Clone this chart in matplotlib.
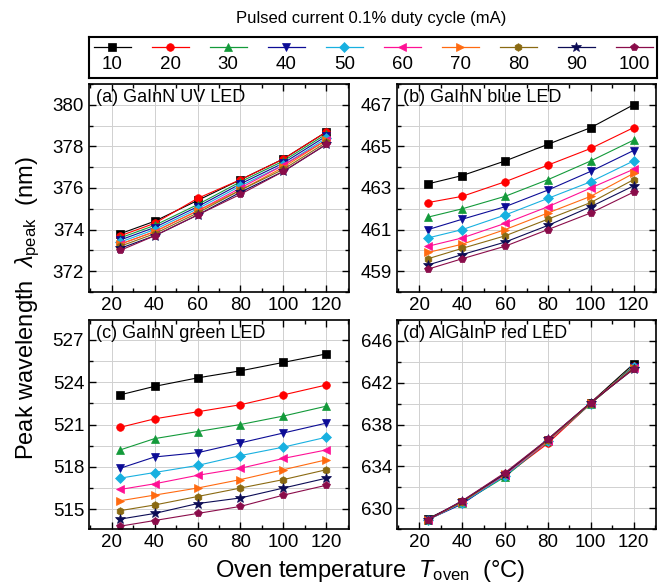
import matplotlib
matplotlib.use("Agg")
import matplotlib.pyplot as plt
from matplotlib.ticker import MultipleLocator

plt.rcParams["font.family"] = ["Liberation Sans", "DejaVu Sans"]
plt.rcParams["mathtext.fontset"] = "custom"
plt.rcParams["mathtext.rm"] = "Liberation Sans"
plt.rcParams["mathtext.it"] = "Liberation Sans:italic"

# oven temperature (deg C)
temps = [24, 40, 60, 80, 100, 120]

# pulsed currents (mA) and their styles
currents = ["10", "20", "30", "40", "50", "60", "70", "80", "90", "100"]
colors = ["#000000", "#ff0000", "#139a3a", "#0c0c96", "#18b0e0",
          "#ff1095", "#ff6a10", "#8a6a12", "#0c0c55", "#8a0c4a"]
markers = ["s", "o", "^", "v", "D", "<", ">", "h", "*", "p"]

# (a) GaInN UV LED
uv = [
    [373.8, 374.4, 375.4, 376.4, 377.4, 378.7],
    [373.7, 374.3, 375.5, 376.4, 377.4, 378.7],
    [373.6, 374.2, 375.2, 376.3, 377.3, 378.6],
    [373.5, 374.1, 375.1, 376.2, 377.2, 378.5],
    [373.4, 374.0, 375.0, 376.1, 377.1, 378.4],
    [373.3, 373.9, 374.9, 376.0, 377.1, 378.3],
    [373.3, 373.9, 374.9, 375.9, 377.0, 378.3],
    [373.2, 373.8, 374.8, 375.9, 376.9, 378.2],
    [373.1, 373.7, 374.7, 375.8, 376.8, 378.1],
    [373.0, 373.7, 374.7, 375.7, 376.8, 378.1],
]

# (b) GaInN blue LED
blue = [
    [463.2, 463.6, 464.3, 465.1, 465.9, 467.0],
    [462.3, 462.6, 463.3, 464.1, 464.9, 465.9],
    [461.6, 462.0, 462.6, 463.4, 464.3, 465.3],
    [461.0, 461.5, 462.1, 462.9, 463.8, 464.8],
    [460.6, 461.0, 461.7, 462.5, 463.3, 464.3],
    [460.2, 460.6, 461.3, 462.1, 463.0, 463.9],
    [459.9, 460.3, 461.0, 461.8, 462.6, 463.7],
    [459.6, 460.1, 460.7, 461.5, 462.3, 463.4],
    [459.3, 459.8, 460.4, 461.2, 462.1, 463.1],
    [459.1, 459.6, 460.2, 461.0, 461.8, 462.8],
]

# (c) GaInN green LED
green = [
    [523.1, 523.7, 524.3, 524.8, 525.4, 526.0],
    [520.8, 521.4, 521.9, 522.4, 523.1, 523.8],
    [519.2, 520.0, 520.5, 521.0, 521.6, 522.3],
    [517.9, 518.7, 519.0, 519.7, 520.4, 521.1],
    [517.2, 517.6, 518.1, 518.8, 519.4, 520.1],
    [516.4, 516.8, 517.4, 517.9, 518.6, 519.2],
    [515.6, 516.0, 516.5, 517.1, 517.8, 518.5],
    [514.9, 515.3, 515.9, 516.5, 517.1, 517.8],
    [514.3, 514.7, 515.4, 515.8, 516.5, 517.2],
    [513.8, 514.2, 514.7, 515.2, 516.0, 516.7],
]

# (d) AlGaInP red LED
red = [
    [629.0, 630.6, 633.2, 636.5, 640.1, 643.8],
    [628.9, 630.6, 633.1, 636.2, 640.0, 643.6],
    [628.9, 630.5, 633.0, 636.4, 640.0, 643.6],
    [628.9, 630.4, 633.2, 636.5, 640.0, 643.5],
    [628.9, 630.5, 633.1, 636.4, 640.0, 643.5],
    [628.9, 630.6, 633.2, 636.4, 640.1, 643.4],
    [628.9, 630.6, 633.3, 636.5, 640.1, 643.4],
    [628.9, 630.6, 633.3, 636.5, 640.0, 643.4],
    [628.9, 630.7, 633.3, 636.6, 640.1, 643.3],
    [628.9, 630.7, 633.4, 636.6, 640.1, 643.3],
]

# title, data, ylim, (major step, offset), (minor step, offset)
panels = [
    ("(a) GaInN UV LED", uv, (371, 381), (2, 0), (1, 0)),
    ("(b) GaInN blue LED", blue, (458, 468), (2, 1), (1, 0)),
    ("(c) GaInN green LED", green, (513.6, 528.4), (3, 2), (1.5, 0.5)),
    ("(d) AlGaInP red LED", red, (628, 648), (4, 2), (2, 0)),
]

W, H = 662, 588
fig = plt.figure(figsize=(W / 100, H / 100), dpi=100)

# axes boxes in pixels: left, top, right, bottom
boxes = [(89, 84, 349, 292), (397, 84, 656, 292),
         (89, 320, 349, 529), (397, 320, 656, 529)]

for (title, data, ylim, major, minor), (l, t, r, b) in zip(panels, boxes):
    ax = fig.add_axes([l / W, 1 - b / H, (r - l) / W, (b - t) / H])
    for vals, c, m in zip(data, colors, markers):
        ms = 7.5 if m == "*" else 5.5
        ax.plot(temps, vals, color=c, marker=m, markersize=ms, lw=0.8,
                markeredgewidth=0.5)
    ax.set_xlim(9.5, 130.5)
    ax.set_ylim(*ylim)
    ax.xaxis.set_major_locator(MultipleLocator(20))
    ax.xaxis.set_minor_locator(MultipleLocator(10))
    ax.yaxis.set_major_locator(MultipleLocator(*major))
    ax.yaxis.set_minor_locator(MultipleLocator(*minor))
    ax.tick_params(which="both", direction="in", top=True, right=True,
                   labelsize=13.5, width=1)
    ax.tick_params(which="major", length=5)
    ax.tick_params(which="minor", length=3)
    ax.grid(axis="x", which="major", color="#d0d0d0", lw=0.7)
    ax.grid(axis="y", which="both", color="#d0d0d0", lw=0.7)
    ax.set_axisbelow(True)
    for s in ax.spines.values():
        s.set_linewidth(1.2)
    ax.text(0.025, 0.975, title, transform=ax.transAxes, ha="left", va="top",
            fontsize=13)

# legend box
lax = fig.add_axes([89 / W, 1 - 78 / H, (657 - 89) / W, 41 / H])
lax.set_xlim(-0.4, 9.39)
lax.set_ylim(0, 1)
lax.set_xticks([])
lax.set_yticks([])
for s in lax.spines.values():
    s.set_linewidth(1.5)
for i, (lab, c, m) in enumerate(zip(currents, colors, markers)):
    ms = 7.5 if m == "*" else 5.5
    lax.plot([i - 0.32, i + 0.32], [0.76, 0.76], color=c, lw=0.9)
    lax.plot([i], [0.76], color=c, marker=m, markersize=ms, markeredgewidth=0.5)
    lax.text(i, 0.32, lab, ha="center", va="center", fontsize=13.5)

fig.text(371 / W, 1 - 18 / H, "Pulsed current 0.1% duty cycle (mA)",
         ha="center", va="center", fontsize=12)
fig.text(28 / W, 1 - 308 / H, r"Peak wavelength  $\lambda_{\mathrm{peak}}$  (nm)",
         ha="center", va="center", rotation=90, fontsize=17)
fig.text(370 / W, 1 - 571 / H, r"Oven temperature  $T_{\mathrm{oven}}$  (°C)",
         ha="center", va="center", fontsize=17)

fig.savefig("out.png", dpi=100)
